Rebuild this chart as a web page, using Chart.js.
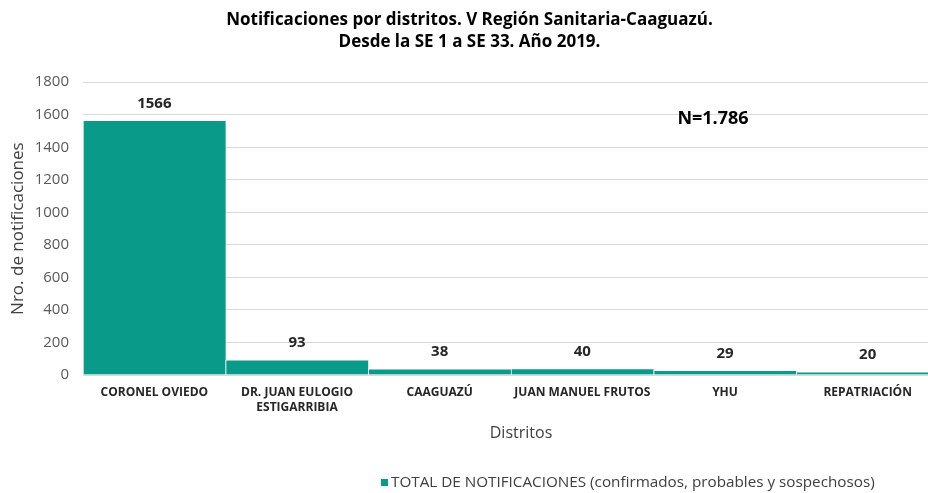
<!DOCTYPE html>
<html><head><meta charset="utf-8">
<script src="https://cdn.jsdelivr.net/npm/chart.js@4.4.0/dist/chart.umd.min.js"></script>
<style>
html,body{margin:0;padding:0;overflow:hidden;background:#fff;width:928px;height:493px}
#wrap{width:940px;height:493px}
</style></head>
<body><div id="wrap"><canvas id="c" width="940" height="493"></canvas></div>
<script>
const categories = [["CORONEL OVIEDO"], ["DR. JUAN EULOGIO", "ESTIGARRIBIA"], ["CAAGUAZÚ"], ["JUAN MANUEL FRUTOS"], ["YHU"], ["REPATRIACIÓN"]];
const totals = [1566, 93, 38, 40, 29, 20];
const yTickValues = [0, 200, 400, 600, 800, 1000, 1200, 1400, 1600, 1800];
const seriesLabel = "TOTAL DE NOTIFICACIONES (confirmados, probables y sospechosos)";
const titleLines = ["Notificaciones por distritos. V Región Sanitaria-Caaguazú.", "Desde la SE 1 a SE 33. Año 2019."];
const noteText = "N=1.786";
const yTitle = "Nro. de notificaciones";
const xTitle = "Distritos";

const TEAL = '#099A89';
const FONT = "'Open Sans', 'Noto Sans', sans-serif";

const extras = {
  id: 'extras',
  afterDatasetsDraw(chart) {
    const ctx = chart.ctx;
    const meta = chart.getDatasetMeta(0);
    const ca = chart.chartArea;
    ctx.save();
    ctx.font = "bold 15px " + FONT;
    ctx.fillStyle = '#262626';
    ctx.textAlign = 'center';
    ctx.textBaseline = 'middle';
    meta.data.forEach((bar, i) => {
      ctx.fillText(String(totals[i]), bar.x, bar.y - 17);
    });
    // N note
    ctx.font = "bold 18px " + FONT;
    ctx.fillStyle = '#000';
    ctx.fillText(noteText, ca.left + (ca.right - ca.left) * 0.736, ca.top + 37);
    // x axis title
    ctx.font = "16px " + FONT;
    ctx.fillStyle = '#404040';
    ctx.fillText(xTitle, (ca.left + ca.right) / 2 + 10, 433);
    // legend
    ctx.font = "15.25px " + FONT;
    ctx.textAlign = 'left';
    ctx.fillStyle = TEAL;
    ctx.fillRect(381, 479, 7, 7);
    ctx.fillStyle = '#404040';
    ctx.fillText(seriesLabel, 391, 483);
    ctx.restore();
  }
};

new Chart(document.getElementById('c'), {
  type: 'bar',
  data: {
    labels: categories,
    datasets: [{
      label: seriesLabel,
      data: totals,
      backgroundColor: TEAL,
      borderColor: '#ffffff',
      borderWidth: {left: 1, right: 0, top: 1, bottom: 0},
      borderSkipped: false,
      barPercentage: 1,
      categoryPercentage: 1
    }]
  },
  options: {
    responsive: false,
    animation: false,
    layout: {padding: {left: 0, right: 1, top: 0, bottom: 48}},
    plugins: {
      legend: {display: false},
      tooltip: {enabled: false},
      title: {
        display: true,
        text: titleLines,
        color: '#000',
        font: {family: FONT, size: 17, weight: 'bold', lineHeight: 1.3},
        padding: {top: 9, bottom: 29}
      }
    },
    scales: {
      x: {
        grid: {display: false},
        border: {display: false},
        ticks: {color: '#262626', font: {family: FONT, size: 12, weight: 'bold', lineHeight: 1.25}, padding: 2, maxRotation: 0, autoSkip: false},
        title: {display: false},
        afterFit(s) { s.height = 70; }
      },
      y: {
        min: 0, max: 1800,
        afterBuildTicks(s) { s.ticks = yTickValues.map(v => ({value: v})); },
        grid: {color: '#d9d9d9', drawTicks: false},
        border: {display: false},
        ticks: {color: '#595959', font: {family: FONT, size: 15}, padding: 14, callback: v => String(v)},
        title: {display: true, text: yTitle, color: '#404040', font: {family: FONT, size: 17}, padding: {top: 8, bottom: 0}},
        afterFit(s) { s.width = 83; }
      }
    }
  },
  plugins: [extras]
});
</script>
</body></html>
